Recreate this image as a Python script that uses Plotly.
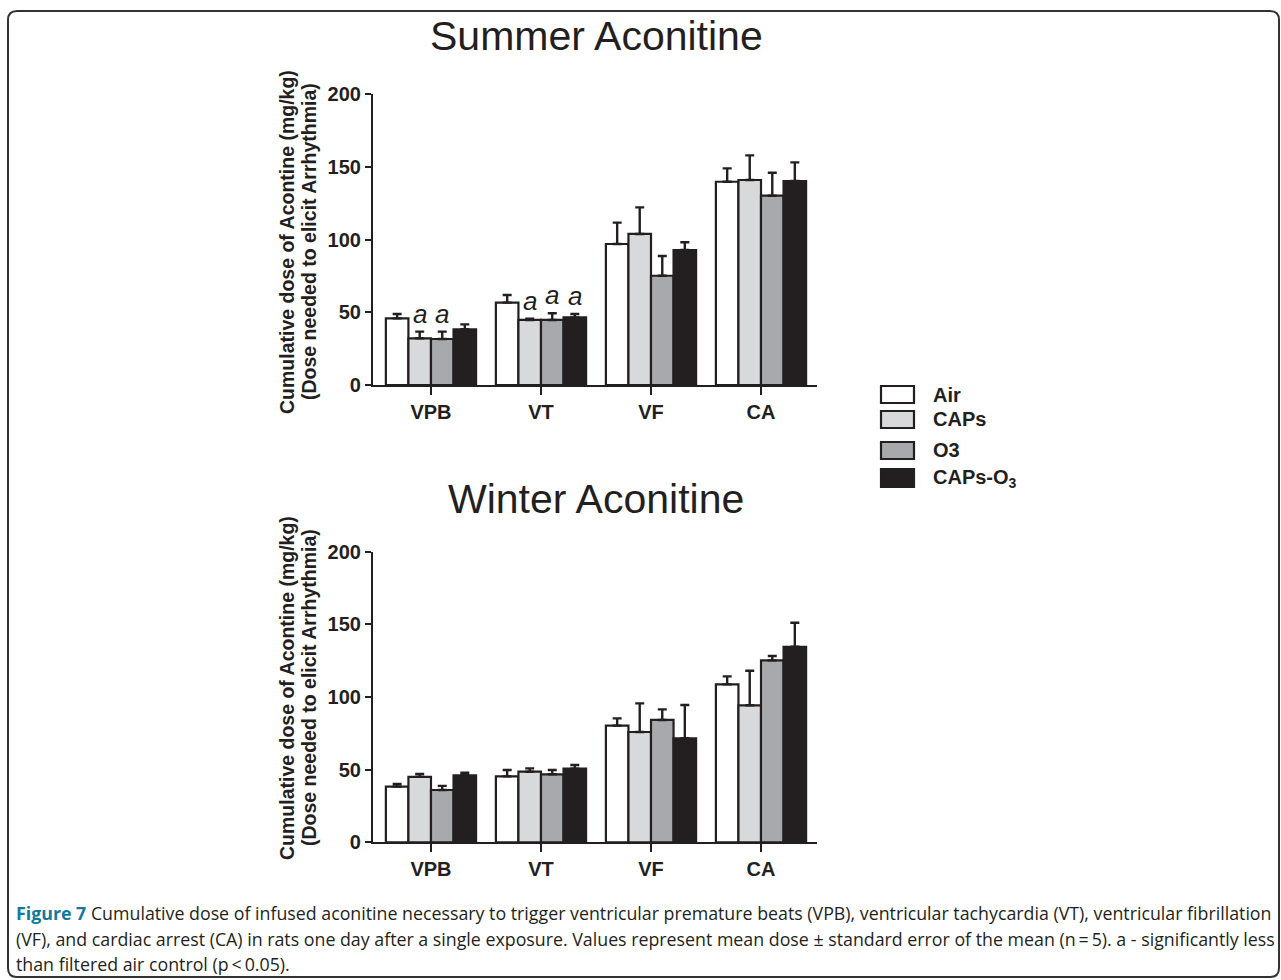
import plotly.graph_objects as go

W, H = 1281, 980

categories = ["VPB", "VT", "VF", "CA"]
series_names = ["Air", "CAPs", "O3", "CAPs-O<sub>3</sub>"]
series_colors = ["#ffffff", "#d8d9db", "#a8a9ac", "#231f20"]

summer_air = [45.8, 56.6, 96.9, 139.7]
summer_caps = [32.1, 44.7, 103.8, 140.9]
summer_o3 = [31.6, 44.7, 75.1, 130.1]
summer_caps_o3 = [38.3, 46.5, 92.8, 140.2]
summer_air_err = [3.0, 5.3, 14.7, 9.2]
summer_caps_err = [4.6, 0.9, 18.3, 16.9]
summer_o3_err = [5.1, 4.6, 13.6, 15.8]
summer_caps_o3_err = [3.4, 2.3, 5.3, 12.8]

winter_air = [38.3, 45.4, 80.3, 108.7]
winter_caps = [45.0, 48.6, 75.9, 94.3]
winter_o3 = [36.0, 46.8, 84.2, 125.2]
winter_caps_o3 = [46.1, 50.7, 71.6, 134.6]
winter_air_err = [1.8, 4.4, 5.0, 5.5]
winter_caps_err = [2.0, 2.3, 19.7, 23.8]
winter_o3_err = [2.8, 3.0, 7.3, 3.0]
winter_caps_o3_err = [1.8, 2.5, 22.9, 16.5]

# significance marks "a" (category index, series index) in summer panel
summer_sig = [(0, 1), (0, 2), (1, 1), (1, 2), (1, 3)]

y_ticks = [0, 50, 100, 150, 200]
y_title_lines = ["Cumulative dose of Acontine (mg/kg)", "(Dose needed to elicit Arrhythmia)"]
caption_lines = [
    "<b><span style='color:#13799c'>Figure 7</span></b> Cumulative dose of infused aconitine necessary to trigger ventricular premature beats (VPB), ventricular tachycardia (VT), ventricular fibrillation",
    "(VF), and cardiac arrest (CA) in rats one day after a single exposure. Values represent mean dose \u00b1 standard error of the mean (n\u2009=\u20095). a - significantly less",
    "than filtered air control (p\u2009&lt;\u20090.05).",
]

INK = "#231f20"
FONT = "Liberation Sans, Arial, sans-serif"
CAP_FONT = "Open Sans, sans-serif"

def px(x):
    return x / W

def py(y):
    return 1 - y / H

summer_vals = [summer_air, summer_caps, summer_o3, summer_caps_o3]
summer_errs = [summer_air_err, summer_caps_err, summer_o3_err, summer_caps_o3_err]
winter_vals = [winter_air, winter_caps, winter_o3, winter_caps_o3]
winter_errs = [winter_air_err, winter_caps_err, winter_o3_err, winter_caps_o3_err]

fig = go.Figure()

for panel, (vals, errs) in enumerate([(summer_vals, summer_errs), (winter_vals, winter_errs)]):
    xa = "x" if panel == 0 else "x2"
    ya = "y" if panel == 0 else "y2"
    for i in range(4):
        fig.add_trace(go.Bar(
            x=categories, y=vals[i], name=series_names[i],
            marker=dict(color=series_colors[i], line=dict(color=INK, width=2.2)),
            error_y=dict(type="data", symmetric=False, array=errs[i],
                         arrayminus=[0] * len(errs[i]), color=INK, thickness=2.4, width=4.5),
            xaxis=xa, yaxis=ya, showlegend=False,
        ))

bargap = 0.18
bw = (1 - bargap) / 4

axis_common = dict(showline=True, linecolor=INK, linewidth=2.2, ticks="outside",
                   tickcolor=INK, tickwidth=2.2, showgrid=False, zeroline=False,
                   automargin=False,
                   tickfont=dict(family=FONT, size=20, color=INK, weight="bold"))

x_dom = [px(373), px(817)]
fig.update_layout(
    template="none",
    width=W, height=H, margin=dict(l=0, r=0, t=0, b=0, autoexpand=False),
    paper_bgcolor="white", plot_bgcolor="white",
    barmode="group", bargap=bargap, bargroupgap=0,
    xaxis=dict(domain=x_dom, anchor="y", range=[-0.527, 3.509], ticklen=8, **axis_common),
    yaxis=dict(domain=[py(385), py(94)], anchor="x", range=[0, 200], tickvals=y_ticks, ticklen=6, **axis_common),
    xaxis2=dict(domain=x_dom, anchor="y2", range=[-0.527, 3.509], ticklen=8, **axis_common),
    yaxis2=dict(domain=[py(842.3), py(551.7)], anchor="x2", range=[0, 200], tickvals=y_ticks, ticklen=6, **axis_common),
)

ann = []
# panel titles
ann.append(dict(text="Summer Aconitine", x=px(596), y=py(36), xref="paper", yref="paper",
                xanchor="center", yanchor="middle",
                showarrow=False, font=dict(family=FONT, size=41, color=INK)))
ann.append(dict(text="Winter Aconitine", x=px(596), y=py(499), xref="paper", yref="paper",
                xanchor="center", yanchor="middle",
                showarrow=False, font=dict(family=FONT, size=41, color=INK)))
# y titles (two lines each)
for cy in (242, 688):
    for line, cx in zip(y_title_lines, (287, 309)):
        ann.append(dict(text=line, x=px(cx), y=py(cy), xref="paper", yref="paper",
                        xanchor="center", yanchor="middle",
                        textangle=-90, showarrow=False,
                        font=dict(family=FONT, size=19.5, color=INK, weight="bold")))
# significance letters
for ci, si in summer_sig:
    xpos = ci - (1 - bargap) / 2 + bw * (si + 0.5)
    ann.append(dict(text="<i>a</i>", x=xpos, y=summer_vals[si][ci] + summer_errs[si][ci],
                    xref="x", yref="y", xanchor="center", yanchor="bottom", yshift=1, showarrow=False,
                    font=dict(family=FONT, size=26, color=INK)))

# legend (custom)
shapes = []
leg_boxes = [(386, 403), (411, 428), (442, 459), (469, 487)]
leg_text_y = [395, 419, 450, 478]
for i, name in enumerate(series_names):
    y0, y1 = leg_boxes[i]
    shapes.append(dict(type="rect", xref="paper", yref="paper",
                       x0=px(881), x1=px(914), y0=py(y1), y1=py(y0),
                       fillcolor=series_colors[i], line=dict(color=INK, width=2.2)))
    ann.append(dict(text=name, x=px(931), y=py(leg_text_y[i]), xref="paper", yref="paper",
                    xanchor="left", yanchor="middle", showarrow=False,
                    font=dict(family=FONT, size=20, color=INK, weight="bold")))

# caption
cap_y = [913, 939, 964]
for line, yy in zip(caption_lines, cap_y):
    ann.append(dict(text=line, x=px(14), y=py(yy), xref="paper", yref="paper",
                    xanchor="left", yanchor="middle", showarrow=False,
                    font=dict(family=CAP_FONT, size=17.8, color="#231f20")))

# rounded border
l, r, t, b, rad = 8, 1279, 11, 977, 9
rx, ry = rad / W, rad / H
L, R, T, B = px(l), px(r), py(t), py(b)
path = (f"M {L+rx},{T} L {R-rx},{T} Q {R},{T} {R},{T-ry} L {R},{B+ry} Q {R},{B} {R-rx},{B} "
        f"L {L+rx},{B} Q {L},{B} {L},{B+ry} L {L},{T-ry} Q {L},{T} {L+rx},{T} Z")
shapes.append(dict(type="path", xref="paper", yref="paper", path=path,
                   line=dict(color="#333333", width=2)))

fig.update_layout(annotations=ann, shapes=shapes)
fig.write_html("out.html", config={"displayModeBar": False},
               post_script="document.body.style.margin='0';document.body.style.overflow='hidden';")
